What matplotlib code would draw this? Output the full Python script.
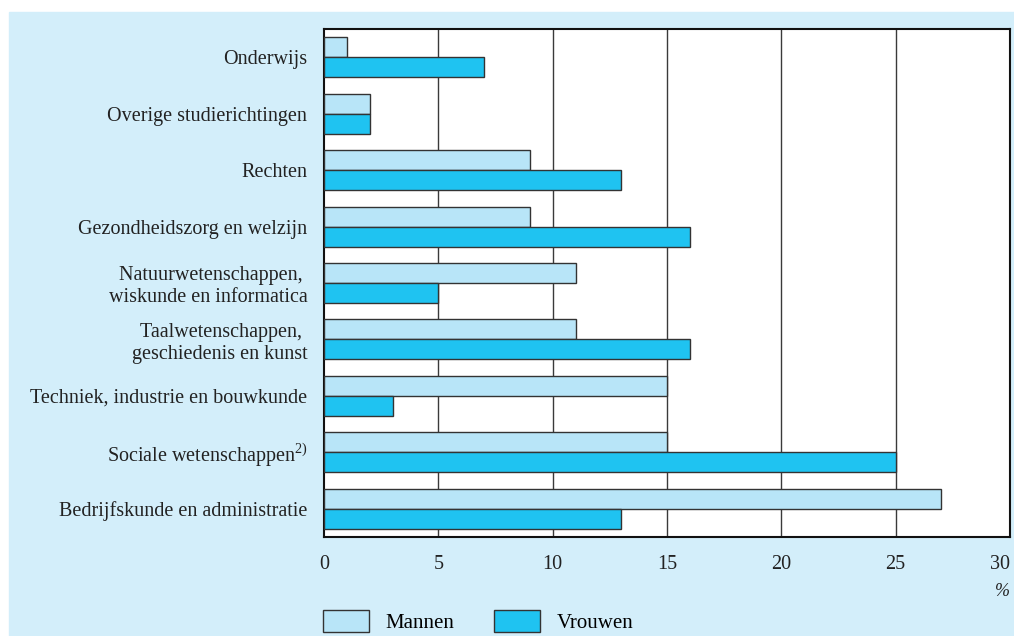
import numpy as np
import matplotlib.pyplot as plt
from matplotlib.patches import Rectangle, Patch

# studierichtingen, van boven naar beneden
categories = [
    "Onderwijs",
    "Overige studierichtingen",
    "Rechten",
    "Gezondheidszorg en welzijn",
    "Natuurwetenschappen, \nwiskunde en informatica",
    "Taalwetenschappen, \ngeschiedenis en kunst",
    "Techniek, industrie en bouwkunde",
    r"Sociale wetenschappen$^{\mathregular{2)}}$",
    "Bedrijfskunde en administratie",
]
mannen = [1, 2, 9, 9, 11, 11, 15, 15, 27]
vrouwen = [7, 2, 13, 16, 5, 16, 3, 25, 13]
xticks = [0, 5, 10, 15, 20, 25, 30]

BG = "#d3eefa"
C_MAN = "#b8e5f8"
C_VROUW = "#1fc3f1"
EDGE = "#333333"
FS = 15

plt.rcParams["font.family"] = "Liberation Serif"
plt.rcParams["mathtext.fontset"] = "custom"
plt.rcParams["mathtext.rm"] = "Liberation Serif"

fig = plt.figure(figsize=(10.14, 6.36), dpi=100)
fig.patches.append(Rectangle((9 / 1014, 0), 1 - 9 / 1014, 1 - 12 / 636,
                             transform=fig.transFigure, color=BG, zorder=-10))

ax = fig.add_axes([324 / 1014, 99 / 636, 686 / 1014, 508 / 636])
ax.set_facecolor("white")

y = np.arange(len(categories))
h = 0.355
ax.barh(y - h / 2, mannen, height=h, color=C_MAN, edgecolor=EDGE, linewidth=1, zorder=3)
ax.barh(y + h / 2, vrouwen, height=h, color=C_VROUW, edgecolor=EDGE, linewidth=1, zorder=3)

ax.set_xlim(0, 30)
ax.set_ylim(len(categories) - 0.5, -0.5)
ax.set_xticks(xticks)
ax.set_yticks(y)
ax.set_yticklabels(categories, fontsize=FS)
ax.tick_params(axis="both", length=0, labelsize=FS - 0.5, colors="#222222")
ax.tick_params(axis="x", pad=13)
ax.tick_params(axis="y", pad=12)
ax.get_xticklabels()[-1].set_ha("right")
for v in xticks[1:-1]:
    ax.axvline(v, color="#3a3a3a", linewidth=1, zorder=1)
for s in ax.spines.values():
    s.set_linewidth(1.5)
    s.set_color("#111111")

fig.text(1002 / 1014, 1 - 592 / 636, "%", fontsize=13, ha="center", va="center",
         color="#222222", style="italic")

handles = [Patch(facecolor=C_MAN, edgecolor=EDGE, linewidth=1),
           Patch(facecolor=C_VROUW, edgecolor=EDGE, linewidth=1)]
fig.legend(handles, ["Mannen", "Vrouwen"], loc="lower left",
           bbox_to_anchor=(323 / 1014, 3 / 636), ncol=2, frameon=False,
           fontsize=FS, handlelength=2.2, handleheight=1.2,
           handletextpad=0.8, columnspacing=1.9, borderpad=0, borderaxespad=0)

fig.savefig("out.png", dpi=100, facecolor="white")
